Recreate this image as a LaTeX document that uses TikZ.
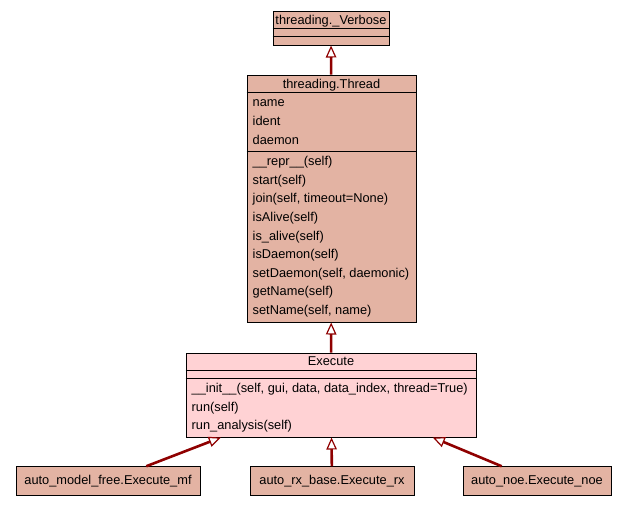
\documentclass[tikz,border=0pt]{standalone}
\usepackage{fontspec}
\setmainfont{Liberation Sans}
\usetikzlibrary{arrows.meta}
\definecolor{clsfill}{HTML}{E3B3A3}
\definecolor{mainfill}{HTML}{FFD2D4}
\definecolor{inhred}{HTML}{8F0000}

\begin{document}
\begin{tikzpicture}[
  x=1pt, y=-1pt,
  font=\fontsize{12.8}{15}\selectfont,
  cls/.style={draw, line width=1pt, fill=clsfill, inner sep=0},
  sep/.style={line width=1pt},
  txt/.style={anchor=west, inner sep=0, text height=9pt, text depth=0.6pt},
  hdr/.style={inner sep=0, text height=9pt, text depth=0.6pt},
  inh/.style={draw=inhred, line width=2.6pt,
    -{Triangle[open, length=12pt, width=10.5pt, line width=1.2pt]}}
]
\fill [white] (0,0) rectangle (627,507);

\node [cls, minimum width=116, minimum height=34] (verbose) at (331,28) {};
\draw [sep] (verbose.north west) ++(0,18) -- ++(116,0);
\draw [sep] (verbose.north west) ++(0,26) -- ++(116,0);
\node [hdr] (verbosehead) at (331,20) {threading.\_Verbose};

\node [cls, minimum width=169, minimum height=247] (thread) at (331.5,198.5) {};
\draw [sep] (thread.north west) ++(0,18.3) -- ++(169,0);
\draw [sep] (thread.north west) ++(0,76.7) -- ++(169,0);
\node [hdr] (threadhead) at (331.5,84) {threading.Thread};
\foreach \a [count=\i] in {name, ident, daemon}
  \node [txt] (threadattr\i) at (252.5,{84.1+18.6*\i}) {\a};
\foreach \m [count=\i] in {\_\_repr\_\_(self), start(self),
    {join(self, timeout=None)}, isAlive(self), is\_alive(self),
    isDaemon(self), {setDaemon(self, daemonic)}, getName(self),
    {setName(self, name)}}
  \node [txt] (threadop\i) at (252.5,{142.9+18.6*\i}) {\m};

\node [cls, fill=mainfill, minimum width=290, minimum height=84] (exec) at (331,395) {};
\draw [sep] (exec.north west) ++(0,17.7) -- ++(290,0);
\draw [sep] (exec.north west) ++(0,26.3) -- ++(290,0);
\node [hdr] (exechead) at (331,361.7) {Execute};
\foreach \m [count=\i] in {{\_\_init\_\_(self, gui, data, data\_index, thread=True)},
    run(self), run\_analysis(self)}
  \node [txt] (execop\i) at (191.5,{369.7+18.6*\i}) {\m};

\node [cls, minimum width=184, minimum height=28.5] (mf) at (108,481) {auto\_model\_free.Execute\_mf};
\node [cls, minimum width=164, minimum height=28.5] (rx) at (332,481) {auto\_rx\_base.Execute\_rx};
\node [cls, minimum width=148, minimum height=28.5] (noe) at (537,481) {auto\_noe.Execute\_noe};

\draw [inh] (thread) -- (verbose);
\draw [inh] (exec) -- (thread);
\draw [inh] (mf) -- (exec);
\draw [inh] (rx) -- (exec);
\draw [inh] (noe) -- (exec);
\end{tikzpicture}
\end{document}
